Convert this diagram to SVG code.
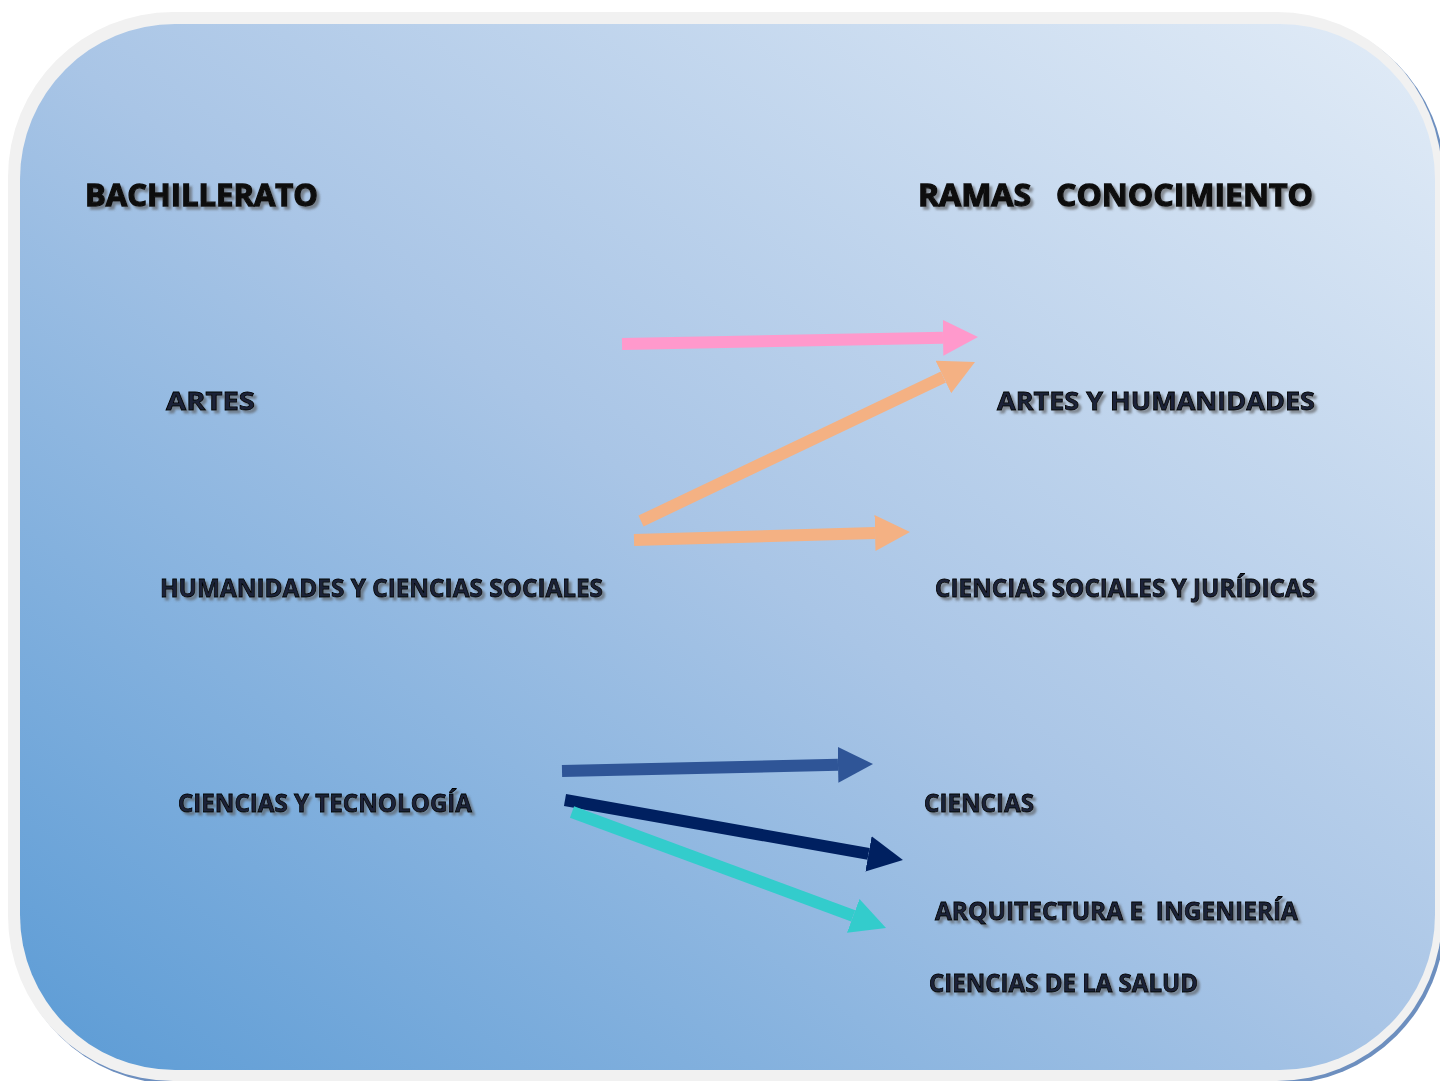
<svg xmlns="http://www.w3.org/2000/svg" width="1440" height="1081" viewBox="0 0 1440 1081">
<defs>
<linearGradient id="bg" x1="0" y1="1" x2="1" y2="0">
<stop offset="0" stop-color="#5b9bd5"/>
<stop offset="0.5" stop-color="#a9c5e6"/>
<stop offset="1" stop-color="#e2ecf7"/>
</linearGradient>
<filter id="sh" x="-5%" y="-30%" width="110%" height="160%">
<feDropShadow dx="3" dy="3" stdDeviation="0.8" flood-color="#555" flood-opacity="0.6"/>
</filter>
<marker id="mPink" markerUnits="userSpaceOnUse" markerWidth="35" markerHeight="36" viewBox="0 0 35 36" refX="0" refY="18" orient="auto"><path d="M0,0 L35,18 L0,36 z" fill="#ff99cc"/></marker>
<marker id="mOrange" markerUnits="userSpaceOnUse" markerWidth="35" markerHeight="36" viewBox="0 0 35 36" refX="0" refY="18" orient="auto"><path d="M0,0 L35,18 L0,36 z" fill="#f4b183"/></marker>
<marker id="mBlue" markerUnits="userSpaceOnUse" markerWidth="35" markerHeight="36" viewBox="0 0 35 36" refX="0" refY="18" orient="auto"><path d="M0,0 L35,18 L0,36 z" fill="#2f5597"/></marker>
<marker id="mNavy" markerUnits="userSpaceOnUse" markerWidth="35" markerHeight="36" viewBox="0 0 35 36" refX="0" refY="18" orient="auto"><path d="M0,0 L35,18 L0,36 z" fill="#002060"/></marker>
<marker id="mCyan" markerUnits="userSpaceOnUse" markerWidth="35" markerHeight="36" viewBox="0 0 35 36" refX="0" refY="18" orient="auto"><path d="M0,0 L35,18 L0,36 z" fill="#33cccc"/></marker>
</defs>
<style>
.head{font-family:"Open Sans","Liberation Sans",sans-serif;font-weight:bold;font-size:31px;fill:#111;stroke:#111;stroke-width:1.3;filter:url(#sh);}
.lbl{font-family:"Open Sans","Liberation Sans",sans-serif;font-weight:bold;font-size:25px;fill:#1b2438;stroke:#000;stroke-width:0.8;filter:url(#sh);}
.arr{fill:none;stroke-width:12;stroke-linecap:butt;}
</style>
<rect width="1440" height="1081" fill="#ffffff"/>
<g id="background">
<rect x="11" y="15" width="1434" height="1069" rx="165" ry="165" fill="#6d8fbf"/>
<rect x="8" y="12" width="1434" height="1069" rx="165" ry="165" fill="#f1f1f1"/>
<rect x="20" y="24" width="1415" height="1046" rx="155" ry="155" fill="url(#bg)"/>
</g>
<g id="headers">
<text id="bachillerato" class="head" x="85" y="206" textLength="233" lengthAdjust="spacingAndGlyphs">BACHILLERATO</text>
<text id="ramas" class="head" x="918" y="206" textLength="395" lengthAdjust="spacingAndGlyphs" xml:space="preserve">RAMAS   CONOCIMIENTO</text>
</g>
<g id="node-artes"><text class="lbl" x="166" y="410" textLength="89" lengthAdjust="spacingAndGlyphs">ARTES</text></g>
<g id="node-humcs"><text class="lbl" x="160" y="597" textLength="443" lengthAdjust="spacingAndGlyphs">HUMANIDADES Y CIENCIAS SOCIALES</text></g>
<g id="node-cyt"><text class="lbl" x="178" y="812" textLength="294" lengthAdjust="spacingAndGlyphs">CIENCIAS Y TECNOLOGÍA</text></g>
<g id="node-ayh"><text class="lbl" x="997" y="410" textLength="318" lengthAdjust="spacingAndGlyphs">ARTES Y HUMANIDADES</text></g>
<g id="node-csj"><text class="lbl" x="935" y="597" textLength="380" lengthAdjust="spacingAndGlyphs">CIENCIAS SOCIALES Y JURÍDICAS</text></g>
<g id="node-ciencias"><text class="lbl" x="924" y="812" textLength="110" lengthAdjust="spacingAndGlyphs">CIENCIAS</text></g>
<g id="node-arqing"><text class="lbl" x="935" y="920" textLength="363" lengthAdjust="spacingAndGlyphs" xml:space="preserve">ARQUITECTURA E  INGENIERÍA</text></g>
<g id="node-salud"><text class="lbl" x="929" y="992" textLength="269" lengthAdjust="spacingAndGlyphs">CIENCIAS DE LA SALUD</text></g>
<g id="connectors">
<line class="arr" x1="622" y1="344" x2="943" y2="337.7" stroke="#ff99cc" marker-end="url(#mPink)"/>
<line class="arr" x1="641" y1="521" x2="943.4" y2="377" stroke="#f4b183" marker-end="url(#mOrange)"/>
<line class="arr" x1="634" y1="540" x2="875" y2="533" stroke="#f4b183" marker-end="url(#mOrange)"/>
<line class="arr" x1="562" y1="771" x2="838" y2="764.8" stroke="#2f5597" marker-end="url(#mBlue)"/>
<line class="arr" x1="565" y1="800" x2="868.5" y2="853.9" stroke="#002060" marker-end="url(#mNavy)"/>
<line class="arr" x1="572" y1="812" x2="853.2" y2="915.9" stroke="#33cccc" marker-end="url(#mCyan)"/>
</g>
</svg>
